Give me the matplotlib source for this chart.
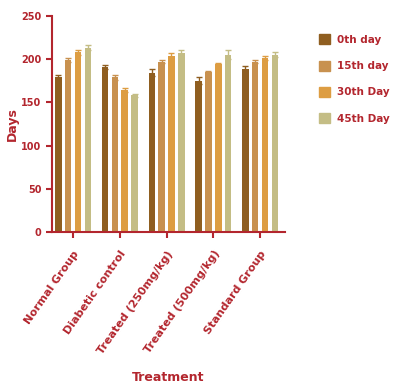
import numpy as np
import matplotlib.pyplot as plt
from matplotlib.patches import Patch

groups = ['Normal Group', 'Diabetic control', 'Treated (250mg/kg)',
          'Treated (500mg/kg)', 'Standard Group']
days = ['0th day', '15th day', '30th Day', '45th Day']
day0 = [179, 191, 184, 175, 188]
day15 = [199, 179, 197, 185, 197]
day30 = [208, 164, 203, 194, 201]
day45 = [213, 158, 207, 205, 205]
err0 = [2, 2, 4, 4, 4]
err15 = [2, 3, 2, 1, 2]
err30 = [3, 2, 4, 2, 2]
err45 = [3, 2, 4, 5, 3]

colors = ['#8f5e20', '#c8914f', '#dd9d42', '#c4bd85']
red = '#b3262e'

fig = plt.figure(figsize=(3.94, 3.86), dpi=100)
ax = fig.add_axes([0.132, 0.399, 0.591, 0.56])

x = np.arange(len(groups))
step = 0.21
width = 0.14
series = [(day0, err0), (day15, err15), (day30, err30), (day45, err45)]
for i, (vals, errs) in enumerate(series):
    ax.bar(x + (i - 1.5) * step, vals, width, yerr=errs, color=colors[i],
           error_kw=dict(ecolor=colors[i], capsize=2, elinewidth=1))

ax.set_xlim(-0.45, 4.53)
ax.set_ylim(0, 250)
ax.set_yticks([0, 50, 100, 150, 200, 250])
ax.set_xticks(x)
ax.set_xticklabels(groups, rotation=55, ha='right', rotation_mode='anchor',
                   fontsize=8, color=red, fontweight='bold')
for lbl in ax.get_yticklabels():
    lbl.set_color(red)
    lbl.set_fontsize(7)
    lbl.set_fontweight('bold')

for s in ['top', 'right']:
    ax.spines[s].set_visible(False)
for s in ['left', 'bottom']:
    ax.spines[s].set_color(red)
    ax.spines[s].set_linewidth(1.5)
ax.tick_params(colors=red, width=1.5, length=4)
ax.tick_params(axis='x', pad=8)

ax.set_ylabel('Days', color=red, fontsize=9, fontweight='bold', labelpad=2)
ax.set_xlabel('Treatment', color=red, fontsize=9, fontweight='bold')
ax.xaxis.set_label_coords(0.5, -0.675)
ax.xaxis.label.set_va('center')

handles = [Patch(color=c) for c in colors]
fig.legend(handles, days, loc='upper left', bbox_to_anchor=(0.785, 0.935),
           frameon=False, labelcolor=red, handlelength=1.1,
           handleheight=1.1, labelspacing=1.5, handletextpad=0.7,
           prop={'weight': 'bold', 'size': 7.5})

fig.savefig('out.png', dpi=100)
